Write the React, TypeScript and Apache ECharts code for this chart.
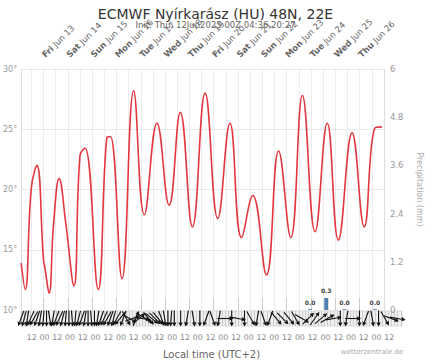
import React, { useEffect, useRef } from "react";
import * as echarts from "echarts";

const TITLE = "ECMWF Nyírkarász (HU) 48N, 22E";
const SUBTITLE = "Init: Thu, 12Jun2025 00Z 04:36 20:27";

// hours since Jun 12 00:00 local time
const X_MIN = 2;
const X_MAX = 360;

const dayWeekdays = ["Fri", "Sat", "Sun", "Mon", "Tue", "Wed", "Thu", "Fri", "Sat", "Sun", "Mon", "Tue", "Wed", "Thu"];
const dayNumbers = [13, 14, 15, 16, 17, 18, 19, 20, 21, 22, 23, 24, 25, 26];
const dayHours = dayNumbers.map((d) => (d - 12) * 24);
const halfDayHours = [12, 24, 36, 48, 60, 72, 84, 96, 108, 120, 132, 144, 156, 168, 180, 192, 204, 216, 228, 240, 252, 264, 276, 288, 300, 312, 324, 336, 348];

const tempHours = [2, 6, 12, 17.5, 24, 25.6, 29.5, 34, 39.5, 46, 54, 60, 65, 78, 86.5, 90, 101.5, 113, 123.5, 136, 148, 159, 171, 183.5, 196, 208, 219.5, 230.5, 244, 256, 268, 279.5, 292, 304, 315, 328.5, 340.5, 351, 358];
const tempValues = [13.9, 11.7, 20.1, 22.0, 14.2, 13.4, 11.4, 17.2, 20.9, 17.2, 12.0, 22.8, 23.45, 11.7, 24.3, 24.4, 12.6, 28.2, 17.9, 25.5, 18.7, 26.4, 16.9, 28.0, 17.6, 25.5, 16.0, 19.5, 12.9, 23.2, 16.0, 27.8, 16.5, 25.5, 15.8, 24.7, 16.9, 25.1, 25.2];

const precipHours = [287, 303, 321, 351];
const precipValues = [0.02, 0.3, 0.02, 0.02];

// wind direction (meteorological, "from") – 3-hourly to +144h, then 6-hourly
const windFrom3h = [20, 15, 10, 25, 30, 20, 10, 5, 0, 350, 10, 20, 25, 15, 5, 0, 355, 5, 15, 20, 10, 0, 355, 0, 10, 20, 25, 30, 20, 15, 30, 40, 20, 330, 300, 250, 200, 230, 280, 300, 320, 310, 315, 320, 340, 350, 0, 5, 0];
const windFrom6h = [0, 10, 350, 0, 20, 340, 10, 270, 0, 280, 0, 330, 10, 340, 20, 320, 315, 320, 330, 300, 225, 215, 230, 240, 260, 0, 10, 270, 0, 20, 350, 0, 330, 290, 280];

const hatchHours: number[] = [];
for (let h = 2; h <= 359; h += 3) hatchHours.push(h);

export default function App() {
  const ref = useRef<HTMLDivElement>(null);
  useEffect(() => {
    document.body.style.margin = "0";
    if (!ref.current) return;
    const chart = echarts.init(ref.current, null, { renderer: "svg" });
    const FONT = "DejaVu Sans";

    const windData: number[][] = [];
    windFrom3h.forEach((d, i) => windData.push([2 + i * 3, d]));
    windFrom6h.forEach((d, i) => windData.push([152 + i * 6, d]));

    const option: any = {
      animation: false,
      textStyle: { fontFamily: FONT },
      title: [
        { text: TITLE, left: "center", top: 2, textStyle: { fontSize: 14, fontWeight: "normal", color: "#333", fontFamily: FONT } },
        { text: SUBTITLE, left: "center", top: 15, textStyle: { fontSize: 8.5, fontWeight: "normal", color: "#666", fontFamily: FONT } },
      ],
      graphic: [
        { type: "text", right: 28, top: 348, style: { text: "wetterzentrale.de", fontSize: 7, fill: "#aaa", fontFamily: FONT } },
      ],
      grid: [
        { left: 21, right: 29, top: 69, height: 241 },
        { left: 21, right: 29, top: 311, height: 21, show: true, backgroundColor: "#f0f0f0", borderColor: "#ddd", borderWidth: 1 },
      ],
      xAxis: [
        {
          type: "value", gridIndex: 0, position: "top", min: X_MIN, max: X_MAX,
          axisLine: { show: false },
          axisTick: { show: true, customValues: dayHours, length: 12, lineStyle: { color: "#ccc" } },
          axisLabel: {
            customValues: dayHours, rotate: 45, margin: 13, fontSize: 8.5, color: "#666",
            formatter: (v: number) => {
              const i = dayHours.indexOf(Math.round(v));
              return i < 0 ? "" : `{b|${dayWeekdays[i]}} Jun ${dayNumbers[i]}`;
            },
            rich: { b: { fontWeight: "bold", fontSize: 8.5, color: "#666", fontFamily: FONT } },
          },
          splitLine: { show: false },
        },
        {
          type: "value", gridIndex: 0, position: "bottom", min: X_MIN, max: X_MAX,
          axisLine: { show: false },
          axisTick: { show: false, customValues: halfDayHours },
          axisLabel: { show: false, customValues: halfDayHours },
          splitLine: { show: true, lineStyle: { color: "#ececec", width: 1 } },
        },
        {
          type: "value", gridIndex: 1, position: "bottom", min: X_MIN, max: X_MAX,
          axisLine: { show: false },
          axisTick: { show: false, customValues: hatchHours },
          axisLabel: {
            customValues: halfDayHours, fontSize: 7.8, color: "#888", margin: 7,
            formatter: (v: number) => (Math.round(v) % 24 === 0 ? "00" : "12"),
          },
          splitLine: { show: true, lineStyle: { color: "#cccccc", width: 1 } },
          name: "Local time (UTC+2)", nameLocation: "middle", nameGap: 23,
          nameTextStyle: { fontSize: 10, color: "#666", fontFamily: FONT },
        },
      ],
      yAxis: [
        {
          type: "value", gridIndex: 0, min: 10, max: 30, interval: 5, position: "left",
          axisLine: { show: true, lineStyle: { color: "#ddd" } },
          axisTick: { show: false },
          axisLabel: { fontSize: 8, color: "#999", margin: 4, formatter: (v: number) => v + "°" },
          splitLine: { show: true, lineStyle: { color: "#e8e8e8" } },
        },
        {
          type: "value", gridIndex: 0, min: 0, max: 6, interval: 1.2, position: "right",
          axisLine: { show: true, lineStyle: { color: "#ddd" } },
          axisTick: { show: false },
          axisLabel: { fontSize: 8.5, color: "#999", margin: 6, formatter: (v: number) => String(Math.round(v * 10) / 10) },
          splitLine: { show: false },
          name: "Precipitation (mm)", nameLocation: "middle", nameRotate: -90, nameGap: 31,
          nameTextStyle: { fontSize: 8, color: "#aaa", fontFamily: FONT },
        },
        { type: "value", gridIndex: 1, min: -1, max: 1, show: false },
      ],
      series: [
        {
          type: "bar", xAxisIndex: 1, yAxisIndex: 1, barWidth: 4,
          data: precipHours.map((h, i) => [h, precipValues[i]]),
          itemStyle: { color: "#4f7fae" },
          label: {
            show: true, position: "top", distance: 4, fontSize: 6, fontWeight: "bold", color: "#444",
            formatter: (p: any) => p.value[1].toFixed(1),
          },
        },
        {
          type: "line", xAxisIndex: 1, yAxisIndex: 0, smooth: 0.45, symbol: "none",
          data: tempHours.map((h, i) => [h, tempValues[i]]),
          lineStyle: { color: "#e2373f", width: 1.6 },
        },
        {
          type: "custom", xAxisIndex: 2, yAxisIndex: 2,
          data: windData,
          renderItem: (params: any, api: any) => {
            const h = api.value(0);
            const d = api.value(1);
            const c = api.coord([h, 0]);
            const b = ((d + 180) * Math.PI) / 180;
            const dx = Math.sin(b);
            const dy = -Math.cos(b);
            const L = 16;
            const x1 = c[0] - (dx * L) / 2, y1 = c[1] - (dy * L) / 2;
            const x2 = c[0] + (dx * L) / 2, y2 = c[1] + (dy * L) / 2;
            const hl = 4, hw = 2.2;
            const bx = x2 - dx * hl, by = y2 - dy * hl;
            const px = -dy, py = dx;
            return {
              type: "group",
              children: [
                { type: "line", shape: { x1, y1, x2: bx, y2: by }, style: { stroke: "#111", lineWidth: 1.1 } },
                { type: "polygon", shape: { points: [[x2, y2], [bx + px * hw, by + py * hw], [bx - px * hw, by - py * hw]] }, style: { fill: "#111" } },
              ],
            };
          },
        },
      ],
    };
    chart.setOption(option);
    return () => chart.dispose();
  }, []);
  return <div ref={ref} style={{ width: 431, height: 360 }} />;
}
